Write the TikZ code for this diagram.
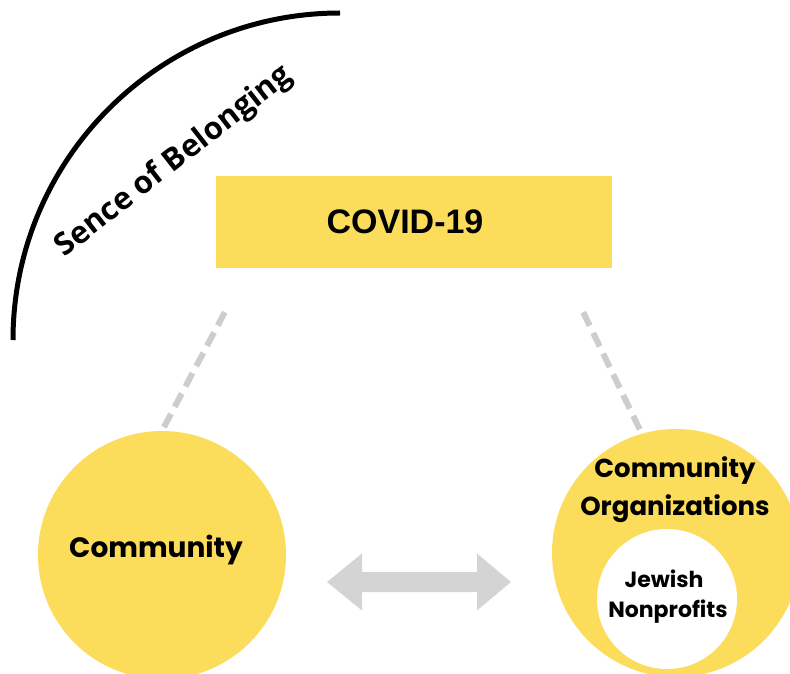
\documentclass[tikz,border=0pt]{standalone}
\usepackage{fontspec}
\newfontfamily\popfont{Poppins}
\newfontfamily\osfont{Open Sans}
\newfontfamily\arfont{Liberation Sans}
\usetikzlibrary{calc}
\definecolor{sun}{HTML}{FCDC5B}
\definecolor{linkgray}{HTML}{CDCDCD}
\definecolor{arrowgray}{HTML}{D4D4D4}
\tikzset{
  bubble/.style={circle, fill=sun, inner sep=0pt},
  hole/.style={circle, fill=white, inner sep=0pt},
  linktext/.style={inner sep=0pt, anchor=base, font=\popfont\bfseries},
  dashlink/.style={draw=linkgray, line width=6pt, dash pattern=on 15pt off 8pt}
}
\begin{document}
\begin{tikzpicture}[x=1pt,y=-1pt]
\useasboundingbox (0,0) rectangle (790,674);
\clip (0,0) rectangle (790,674);

% arc with its caption
\draw[line width=5pt] (13,340) arc[start angle=180, end angle=90, radius=327pt];
\node[rotate=38, inner sep=0pt, font=\osfont\bfseries\fontsize{31}{33}\selectfont] (belong) at (174,162) {Sence of Belonging};

% top box
\node[fill=sun, minimum width=396pt, minimum height=92pt, inner sep=0pt] (covid) at (414,222) {};
\node[inner sep=0pt, font=\arfont\bfseries\fontsize{34}{36}\selectfont] (covidtext) at (405,222) {COVID-19};

% circles
\node[bubble, minimum size=248pt] (comm) at (162,555) {};
\node[linktext, font=\popfont\bfseries\fontsize{28}{30}\selectfont] (commtext) at (156,557) {Community};

\node[bubble, minimum size=248pt] (org) at (676,553) {};
\node[hole, minimum size=140pt] (jn) at (667,599) {};
\node[linktext, font=\popfont\bfseries\fontsize{26}{28}\selectfont] (orgA) at (675,477) {Community};
\node[linktext, font=\popfont\bfseries\fontsize{26}{28}\selectfont] (orgB) at (675,515) {Organizations};
\node[linktext, font=\popfont\bfseries\fontsize{22}{24}\selectfont] (jnA) at (664,587) {Jewish};
\node[linktext, font=\popfont\bfseries\fontsize{22}{24}\selectfont] (jnB) at (668,617) {Nonprofits};

% dashed links
\coordinate (covidL) at ($(covid.south west)+(9,44)$);
\coordinate (covidR) at ($(covid.south east)+(-29,44)$);
\draw[dashlink] (covidL) -- (comm.north);
\draw[dashlink] (covidR) -- (org.106);

% double arrow between the circles
\fill[arrowgray] (327,582) -- (362,553.5) -- (362,572) -- (477,572) -- (477,553.5)
  -- (511,582) -- (477,610.5) -- (477,592) -- (362,592) -- (362,610.5) -- cycle;
\end{tikzpicture}
\end{document}
